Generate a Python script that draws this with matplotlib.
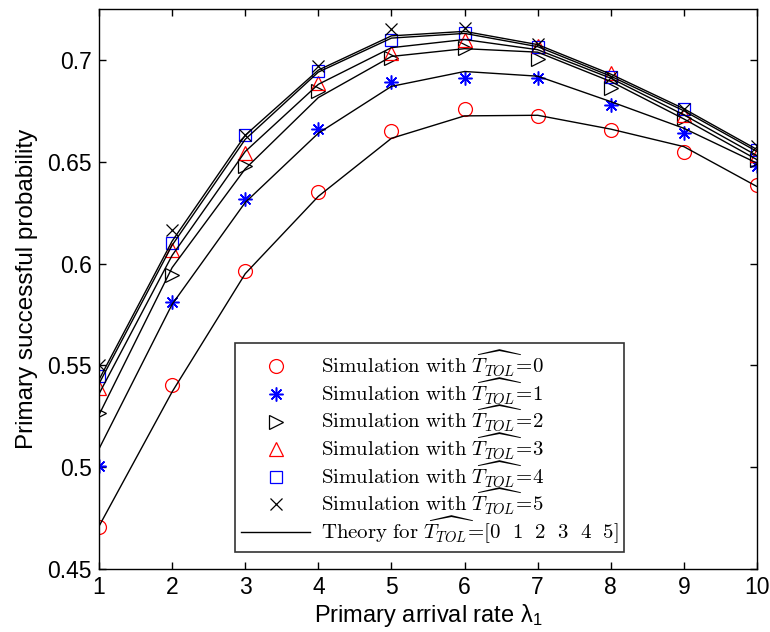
import numpy as np
import matplotlib.pyplot as plt

plt.rcParams['font.family'] = ['Liberation Sans', 'DejaVu Sans']
plt.rcParams['mathtext.fontset'] = 'cm'

# primary arrival rate
lam = [1, 2, 3, 4, 5, 6, 7, 8, 9, 10]

# simulation points, one list per T_TOL
sim0 = [0.4708, 0.5404, 0.5962, 0.6349, 0.6653, 0.6759, 0.6725, 0.6656, 0.6550, 0.6386]
sim1 = [0.5005, 0.5813, 0.6316, 0.6660, 0.6893, 0.6910, 0.6910, 0.6779, 0.6643, 0.6480]
sim2 = [0.5265, 0.5944, 0.6480, 0.6845, 0.7008, 0.7060, 0.7003, 0.6861, 0.6714, 0.6510]
sim3 = [0.5387, 0.6067, 0.6545, 0.6886, 0.7036, 0.7098, 0.7070, 0.6935, 0.6730, 0.6533]
sim4 = [0.5450, 0.6100, 0.6632, 0.6943, 0.7098, 0.7134, 0.7065, 0.6914, 0.6757, 0.6558]
sim5 = [0.5502, 0.6165, 0.6632, 0.6970, 0.7151, 0.7155, 0.7080, 0.6914, 0.6757, 0.6577]

# theory curves
th0 = [0.4710, 0.5370, 0.5950, 0.6330, 0.6615, 0.6725, 0.6728, 0.6660, 0.6574, 0.6378]
th1 = [0.5090, 0.5800, 0.6300, 0.6640, 0.6870, 0.6943, 0.6920, 0.6795, 0.6664, 0.6493]
th2 = [0.5257, 0.5980, 0.6465, 0.6815, 0.7017, 0.7055, 0.7038, 0.6894, 0.6710, 0.6510]
th3 = [0.5360, 0.6040, 0.6550, 0.6880, 0.7060, 0.7100, 0.7050, 0.6910, 0.6730, 0.6530]
th4 = [0.5410, 0.6090, 0.6610, 0.6940, 0.7107, 0.7130, 0.7065, 0.6920, 0.6750, 0.6550]
th5 = [0.5430, 0.6110, 0.6630, 0.6950, 0.7118, 0.7140, 0.7075, 0.6930, 0.6760, 0.6560]

yticks = [0.45, 0.5, 0.55, 0.6, 0.65, 0.7]
ytick_labels = ['0.45', '0.5', '0.55', '0.6', '0.65', '0.7']


def lbl(k):
    return r'$\mathrm{Simulation\ with\ }\widehat{T_{TOL}}\!=\!%d$' % k


fig = plt.figure(figsize=(7.7, 6.32), dpi=100)
ax = fig.add_axes([0.1286, 0.0997, 0.8545, 0.8861])

ms = 10
h0, = ax.plot(lam, sim0, 'o', color='red', mfc='none', ms=ms, mew=0.9, label=lbl(0))
h1, = ax.plot(lam, sim1, marker=(8, 2, 0), ls='none', color='blue', ms=ms, mew=1.1, label=lbl(1))
h2, = ax.plot(lam, sim2, '>', color='black', mfc='none', ms=ms, mew=0.9, label=lbl(2))
h3, = ax.plot(lam, sim3, '^', color='red', mfc='none', ms=ms, mew=0.9, label=lbl(3))
h4, = ax.plot(lam, sim4, 's', color='blue', mfc='none', ms=ms - 1, mew=0.9, label=lbl(4))
h5, = ax.plot(lam, sim5, 'x', color='black', ms=ms - 1, mew=0.9, label=lbl(5))

for th in [th0, th1, th2, th3, th4, th5]:
    ht, = ax.plot(lam, th, '-', color='black', lw=1)
ht.set_label(r'$\mathrm{Theory\ for\ }\widehat{T_{TOL}}\!=\![0\ \ 1\ \ 2\ \ 3\ \ 4\ \ 5]$')

ax.set_xlim(1, 10)
ax.set_ylim(0.45, 0.725)
ax.set_xticks(lam)
ax.set_yticks(yticks)
ax.set_yticklabels(ytick_labels)
ax.tick_params(direction='in', top=True, right=True, length=5, width=1, labelsize=16.5, pad=5)
for s in ax.spines.values():
    s.set_linewidth(1)

ax.set_xlabel(r'Primary arrival rate $\mathregular{\lambda_1}$', fontsize=17, labelpad=2)
ax.set_ylabel('Primary successful probability', fontsize=17.5, labelpad=7)

leg = ax.legend(handles=[h0, h1, h2, h3, h4, h5, ht], loc='lower left',
                bbox_to_anchor=(0.207, 0.03), fontsize=15, frameon=True,
                fancybox=False, edgecolor='black', handlelength=3.3,
                labelspacing=-0.12, borderpad=0.3, handletextpad=0.5,
                borderaxespad=0)
leg.get_frame().set_linewidth(1.2)

plt.savefig('out.png', dpi=100)
